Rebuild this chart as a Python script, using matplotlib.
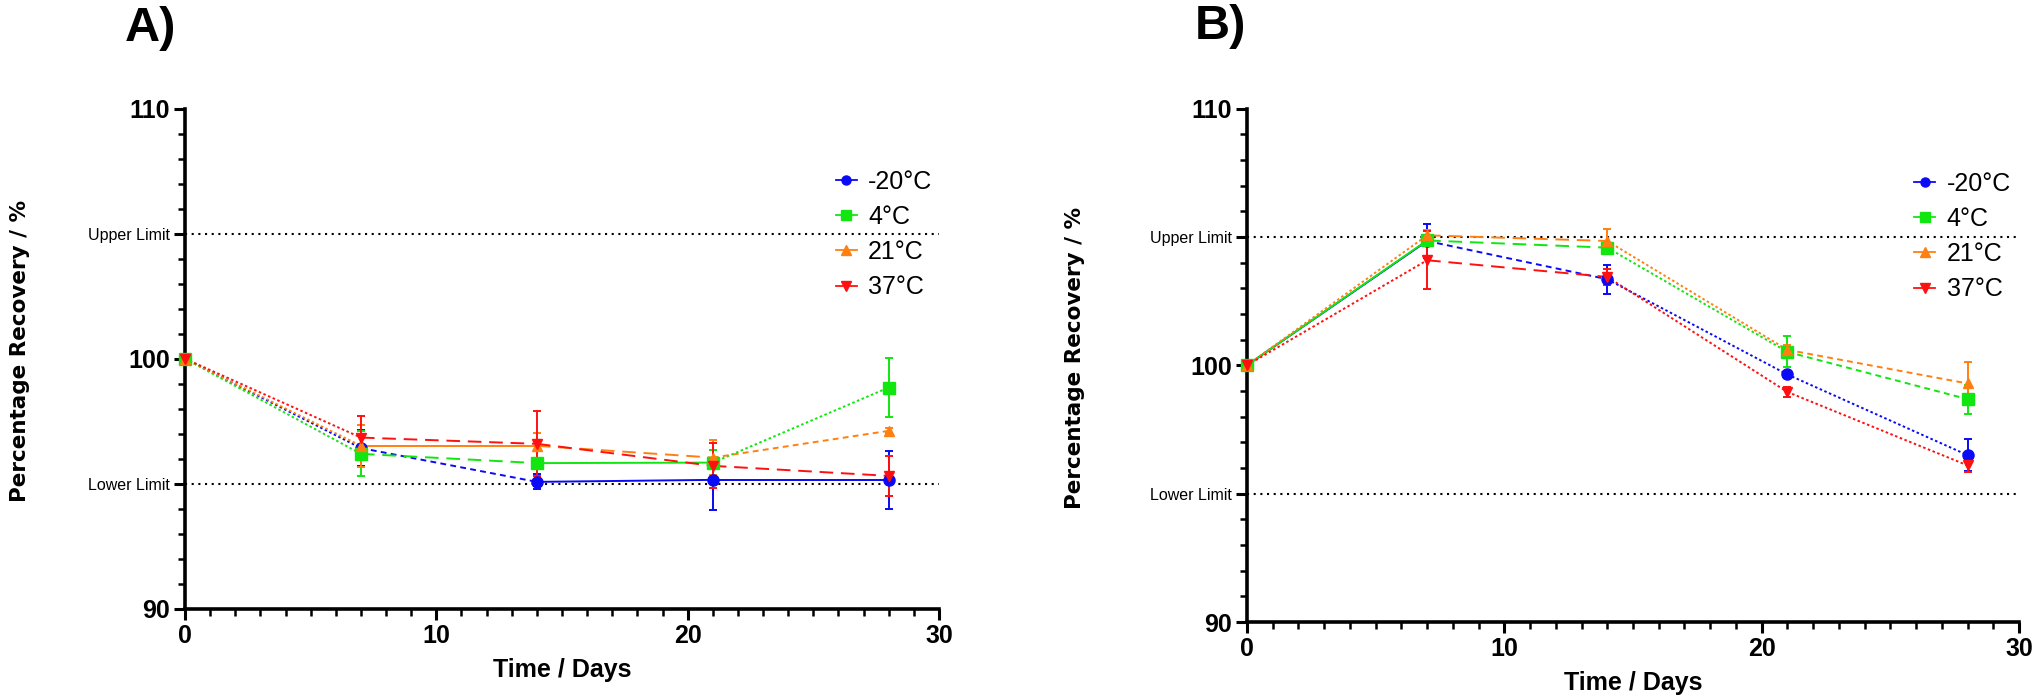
import matplotlib
matplotlib.use("Agg")
import matplotlib.pyplot as plt
from matplotlib.lines import Line2D
from matplotlib.ticker import MultipleLocator

plt.rcParams['font.family'] = ['Liberation Sans', 'DejaVu Sans']

# ---------------- data ----------------
days = [0, 7, 14, 21, 28]
series_labels = ['-20°C', '4°C', '21°C', '37°C']

A_m20 = [100, 96.43, 95.08, 95.16, 95.16]
A_m20_err = [0, 0.73, 0.30, 1.20, 1.16]
A_4 = [100, 96.20, 95.83, 95.85, 98.85]
A_4_err = [0, 0.90, 0.15, 0.50, 1.16]
A_21 = [100, 96.52, 96.52, 96.05, 97.12]
A_21_err = [0, 0.85, 0.50, 0.70, 0.10]
A_37 = [100, 96.85, 96.60, 95.72, 95.32]
A_37_err = [0, 0.85, 1.30, 0.90, 0.80]

B_m20 = [100, 104.84, 103.35, 99.64, 96.50]
B_m20_err = [0, 0.68, 0.57, 0.15, 0.62]
B_4 = [100, 104.86, 104.58, 100.52, 98.68]
B_4_err = [0, 0.20, 0.20, 0.60, 0.56]
B_21 = [100, 105.06, 104.84, 100.60, 99.29]
B_21_err = [0, 0.20, 0.48, 0.20, 0.82]
B_37 = [100, 104.09, 103.44, 98.96, 96.10]
B_37_err = [0, 1.12, 0.30, 0.20, 0.25]

upper_limit = 105
lower_limit = 95

# ---------------- styles ----------------
colors = ['#0a0af5', '#11e611', '#ff8010', '#ff1010']
markers = ['o', 's', '^', 'v']
LS = {
    'dot': (0, (1.3, 1.3)),
    'dash': (0, (3, 2.2)),
    'long': (0, (7, 4)),
    'solid': '-',
}
segA = [
    ['dot', 'dash', 'solid', 'solid'],
    ['dot', 'long', 'solid', 'dot'],
    ['dot', 'solid', 'long', 'dash'],
    ['dot', 'long', 'long', 'long'],
]
segB = [
    ['solid', 'dash', 'dot', 'dot'],
    ['solid', 'long', 'dot', 'dash'],
    ['dot', 'long', 'dot', 'dash'],
    ['dot', 'long', 'dot', 'dot'],
]

fig = plt.figure(figsize=(20.32, 6.97), dpi=100)
axA = fig.add_axes([185/2032, 1-609/697, 754/2032, 500.5/697])
axB = fig.add_axes([1247/2032, 1-622/697, 772/2032, 513.5/697])


def draw(ax, vals, errs, segs, letter, letter_xy, leg_xy, ylab_x, xlab_y):
    for i in range(4):
        y = vals[i]
        for s in range(len(days) - 1):
            ax.plot(days[s:s+2], y[s:s+2], color=colors[i], lw=1.4,
                    linestyle=LS[segs[i][s]], clip_on=False, zorder=3+i*0.1)
        ax.errorbar(days, y, yerr=errs[i], fmt='none', ecolor=colors[i],
                    elinewidth=1.4, capsize=2.8, capthick=1.4, clip_on=False,
                    zorder=3+i*0.1)
        ax.plot(days, y, linestyle='none', marker=markers[i], color=colors[i],
                markersize=8 if markers[i] in ('o', 's') else 7.5,
                clip_on=False, zorder=4+i*0.1)
    # limits lines
    for lim in (upper_limit, lower_limit):
        ax.axhline(lim, color='black', lw=1.5, linestyle=(0, (1, 2.2)), zorder=2)

    ax.set_xlim(0, 30)
    ax.set_ylim(90, 110)
    ax.spines['top'].set_visible(False)
    ax.spines['right'].set_visible(False)
    ax.spines['left'].set_linewidth(2.6)
    ax.spines['bottom'].set_linewidth(2.6)
    ax.set_xticks([0, 10, 20, 30])
    ax.xaxis.set_minor_locator(MultipleLocator(1))
    ax.set_yticks([90, 95, 100, 105, 110])
    ax.set_yticklabels(['90', 'Lower Limit', '100', 'Upper Limit', '110'])
    ax.yaxis.set_minor_locator(MultipleLocator(1))
    ax.tick_params(axis='both', which='major', length=8, width=2.2,
                   labelsize=18, direction='out', pad=3)
    ax.tick_params(axis='both', which='minor', length=5, width=1.8,
                   direction='out')
    for lab in ax.get_xticklabels():
        lab.set_fontweight('bold')
    for lab in ax.get_yticklabels():
        if 'Limit' in lab.get_text():
            lab.set_fontsize(11.5)
            lab.set_fontweight('normal')
            lab.set_family(['Liberation Sans Narrow', 'Liberation Sans'])
        else:
            lab.set_fontweight('bold')

    ax.text(ylab_x, 0.515, 'Percentage Recovery / %', transform=ax.transAxes,
            rotation=90, ha='center', va='center', fontsize=15.5,
            fontweight='bold', family='DejaVu Sans')
    ax.text(0.5, xlab_y, 'Time / Days', transform=ax.transAxes,
            ha='center', va='center', fontsize=18, fontweight='bold')
    fig.text(letter_xy[0], letter_xy[1], letter, ha='left', va='top',
             fontsize=35, fontweight='bold')

    handles = [Line2D([0], [0], color=colors[i], lw=1.3, marker=markers[i],
                      markersize=6.5) for i in range(4)]
    ax.legend(handles, series_labels, loc='upper left', bbox_to_anchor=leg_xy,
              frameon=False, fontsize=18, handlelength=0.85,
              handletextpad=0.45, labelspacing=0.45, borderpad=0,
              borderaxespad=0)


draw(axA, [A_m20, A_4, A_21, A_37], [A_m20_err, A_4_err, A_21_err, A_37_err],
     segA, 'A)', (125/2032, 1-6/697), (0.863, 0.878), -0.219, -0.122)
draw(axB, [B_m20, B_4, B_21, B_37], [B_m20_err, B_4_err, B_21_err, B_37_err],
     segB, 'B)', (1195/2032, 1-4/697), (0.864, 0.877), -0.223, -0.119)

fig.savefig('out.png', dpi=100)
